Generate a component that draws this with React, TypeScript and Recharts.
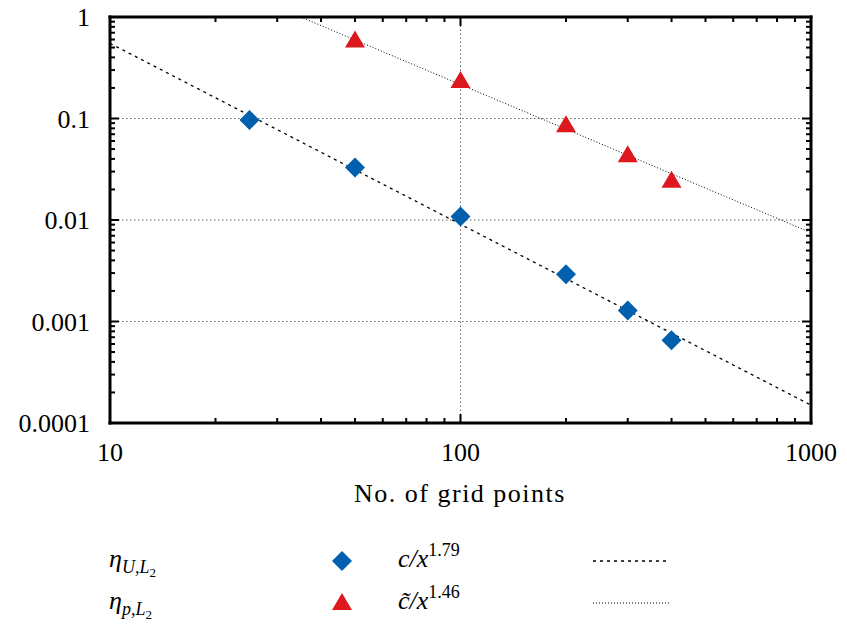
import React from 'react';
import { ComposedChart, Scatter, Line, XAxis, YAxis, ReferenceLine, ReferenceArea } from 'recharts';

// grid points (x) and error norms
const uGrid = [25, 50, 100, 200, 300, 400];
const etaU = [0.0967, 0.0329, 0.0108, 0.00292, 0.00128, 0.000653];
const pGrid = [50, 100, 200, 300, 400];
const etaP = [0.6, 0.239, 0.0877, 0.0444, 0.0249];

// fitted power laws, end points where they leave the frame
const fitUx = [10, 1000];
const fitUy = [0.55, 0.00015];
const fitPx = [35, 1000];
const fitPy = [1.0, 0.0075];

const xTicks = [10, 20, 30, 40, 50, 60, 70, 80, 90, 100, 200, 300, 400, 500, 600, 700, 800, 900, 1000];
const xMajor = [10, 100, 1000];
const yTicks = [
  0.0001, 0.0002, 0.0003, 0.0004, 0.0005, 0.0006, 0.0007, 0.0008, 0.0009,
  0.001, 0.002, 0.003, 0.004, 0.005, 0.006, 0.007, 0.008, 0.009,
  0.01, 0.02, 0.03, 0.04, 0.05, 0.06, 0.07, 0.08, 0.09,
  0.1, 0.2, 0.3, 0.4, 0.5, 0.6, 0.7, 0.8, 0.9, 1,
];
const yMajor = [0.0001, 0.001, 0.01, 0.1, 1];
const xGrid = [100];
const yGrid = [0.001, 0.01, 0.1];
const xRange = [10, 1000];
const yRange = [0.0001, 1];

const uData = uGrid.map((x, i) => ({ x, y: etaU[i] }));
const pData = pGrid.map((x, i) => ({ x, y: etaP[i] }));
const fitU = fitUx.map((x, i) => ({ x, y: fitUy[i] }));
const fitP = fitPx.map((x, i) => ({ x, y: fitPy[i] }));

// tick marks sit on the frame, gnuplot style (pointing inwards, on all four sides)
const tickMarks = [
  ...xTicks.map(x => ({ x, y: yRange[0], side: 'b' })),
  ...xTicks.map(x => ({ x, y: yRange[1], side: 't' })),
  ...yTicks.map(y => ({ x: xRange[0], y, side: 'l' })),
  ...yTicks.map(y => ({ x: xRange[1], y, side: 'r' })),
];

const FONT = 'Liberation Serif, DejaVu Serif, serif';
const BLUE = '#0060ad';
const RED = '#dd181f';

const Diamond = ({ cx, cy }: any) => (
  <polygon points={`${cx},${cy - 10} ${cx + 10},${cy} ${cx},${cy + 10} ${cx - 10},${cy}`} fill={BLUE} />
);
const Triangle = ({ cx, cy }: any) => (
  <polygon points={`${cx},${cy - 9} ${cx + 10},${cy + 8} ${cx - 10},${cy + 8}`} fill={RED} />
);

const TickMark = (props: any) => {
  const { cx, cy } = props;
  const p = props.payload || props;
  const side = p.side;
  const major = side === 'b' || side === 't' ? xMajor.includes(p.x) : yMajor.includes(p.y);
  const len = major ? 9 : 5;
  if (side === 'b') return <rect x={cx - 1} y={cy - len} width={2} height={len} fill="#000" />;
  if (side === 't') return <rect x={cx - 1} y={cy} width={2} height={len} fill="#000" />;
  if (side === 'l') return <rect x={cx} y={cy - 1} width={len} height={2} fill="#000" />;
  return <rect x={cx - len} y={cy - 1} width={len} height={2} fill="#000" />;
};

// frame of the plot, four filled bars round the reference area
const Frame = ({ x, y, width, height }: any) => (
  <g fill="#000">
    <rect x={x - 1.5} y={y - 1.5} width={width + 3} height={3} />
    <rect x={x - 1.5} y={y + height - 1.5} width={width + 3} height={3} />
    <rect x={x - 1.5} y={y - 1.5} width={3} height={height + 3} />
    <rect x={x + width - 1.5} y={y - 1.5} width={3} height={height + 3} />
  </g>
);

const BottomLabel = ({ x, y, payload }: any) =>
  xMajor.includes(payload.value) ? (
    <text x={x} y={y + 38} textAnchor="middle" fontFamily={FONT} fontSize={26} fill="#000">
      {payload.value}
    </text>
  ) : null;

const LeftLabel = ({ x, y, payload }: any) =>
  yMajor.includes(payload.value) ? (
    <text x={x - 20} y={y + 9} textAnchor="end" fontFamily={FONT} fontSize={26} fill="#000">
      {String(payload.value)}
    </text>
  ) : null;

export default function App() {
  return (
    <div style={{ position: 'absolute', left: 0, top: 0, width: 847, height: 626, background: '#fff' }}>
      <ComposedChart width={847} height={626} margin={{ top: 17, right: 36, left: 0, bottom: 0 }}>
        <XAxis xAxisId="b" dataKey="x" type="number" scale="log" domain={xRange}
          ticks={xTicks} interval={0} tickSize={0} tickMargin={0} tickLine={false} axisLine={false}
          tick={<BottomLabel />} height={203} />
        <YAxis yAxisId="l" type="number" scale="log" domain={yRange}
          ticks={yTicks} interval={0} tickSize={0} tickMargin={0} tickLine={false} axisLine={false}
          tick={<LeftLabel />} width={110} />

        {yGrid.map(v => (
          <ReferenceLine key={'h' + v} xAxisId="b" yAxisId="l" y={v} stroke="#666" strokeWidth={1} strokeDasharray="1.5 2.5" />
        ))}
        {xGrid.map(v => (
          <ReferenceLine key={'v' + v} xAxisId="b" yAxisId="l" x={v} stroke="#666" strokeWidth={1} strokeDasharray="1.5 2.5" />
        ))}

        <Line xAxisId="b" yAxisId="l" data={fitU} dataKey="y" stroke="#000" strokeWidth={1.3}
          strokeDasharray="3 4" dot={false} activeDot={false} isAnimationActive={false} />
        <Line xAxisId="b" yAxisId="l" data={fitP} dataKey="y" stroke="#000" strokeWidth={1}
          strokeDasharray="1 2" dot={false} activeDot={false} isAnimationActive={false} />
        <Scatter xAxisId="b" yAxisId="l" data={uData} dataKey="y" shape={<Diamond />} isAnimationActive={false} />
        <Scatter xAxisId="b" yAxisId="l" data={pData} dataKey="y" shape={<Triangle />} isAnimationActive={false} />
        <Scatter xAxisId="b" yAxisId="l" data={tickMarks} dataKey="y" shape={<TickMark />} isAnimationActive={false} />
        <ReferenceArea xAxisId="b" yAxisId="l" x1={xRange[0]} x2={xRange[1]} y1={yRange[0]} y2={yRange[1]}
          ifOverflow="visible" shape={<Frame />} />
      </ComposedChart>

      <svg width={847} height={626} style={{ position: 'absolute', left: 0, top: 0, pointerEvents: 'none' }}>
        <text x={460} y={502} textAnchor="middle" fontFamily={FONT} fontSize={26} letterSpacing={1.5} fill="#000">
          No. of grid points
        </text>
        <text x={109} y={567} fontFamily={FONT} fontSize={26} fontStyle="italic" fill="#000">
          η<tspan fontSize={18} dy={6}>U,L</tspan>
          <tspan fontSize={13} fontStyle="normal" dy={4}>2</tspan>
        </text>
        <polygon points="342,551 352,561 342,571 332,561" fill={BLUE} />
        <text x={398} y={567} fontFamily={FONT} fontSize={26} fontStyle="italic" fill="#000">
          c/x<tspan fontSize={18} fontStyle="normal" dy={-11}>1.79</tspan>
        </text>
        <line x1={593} y1={561} x2={669} y2={561} stroke="#000" strokeWidth={1.3} strokeDasharray="3 4" />
        <text x={109} y={609} fontFamily={FONT} fontSize={26} fontStyle="italic" fill="#000">
          η<tspan fontSize={18} dy={6}>p,L</tspan>
          <tspan fontSize={13} fontStyle="normal" dy={4}>2</tspan>
        </text>
        <polygon points="342,593 352,610 332,610" fill={RED} />
        <text x={398} y={609} fontFamily={FONT} fontSize={26} fontStyle="italic" fill="#000">
          {'c\u0303'}/x<tspan fontSize={18} fontStyle="normal" dy={-11}>1.46</tspan>
        </text>
        <line x1={593} y1={603} x2={669} y2={603} stroke="#000" strokeWidth={1} strokeDasharray="1 2" />
      </svg>
    </div>
  );
}
